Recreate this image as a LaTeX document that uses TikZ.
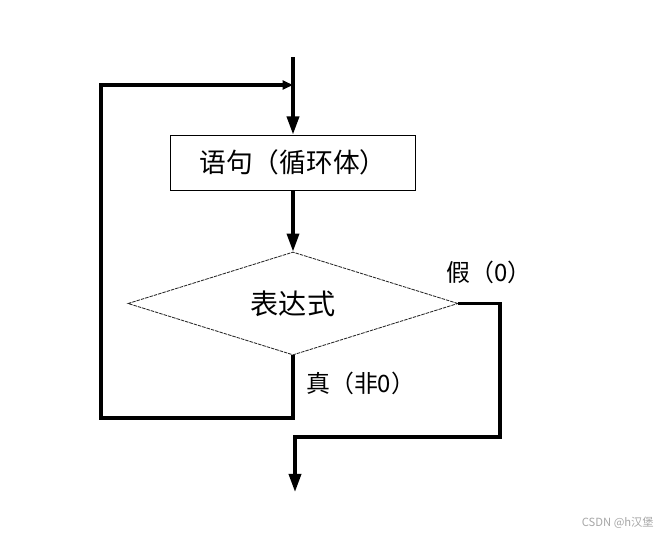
\documentclass[tikz,border=0pt]{standalone}
\usepackage{fontspec}
\newfontfamily\cjk{Noto Sans CJK SC}
\usetikzlibrary{arrows.meta, positioning, shapes.geometric}

\begin{document}
\begin{tikzpicture}[
	x=0.025cm, y=-0.025cm,
	stmt/.style={rectangle, draw, line width=0.7pt, minimum width=6.1cm, minimum height=1.375cm, inner sep=0pt, font=\cjk\fontsize{19}{22}\selectfont},
	cond/.style={diamond, draw=black!85, line width=0.6pt, dash pattern=on 2.5pt off 0.7pt, aspect=3.2, minimum width=8.25cm, minimum height=2.575cm, inner sep=0pt, font=\cjk\fontsize{20}{22}\selectfont},
	lbl/.style={anchor=west, inner sep=0pt, font=\cjk\fontsize{17}{20}\selectfont},
	flow/.style={line width=2.5pt, -{Triangle[length=4.5mm, width=3mm]}},
	loopflow/.style={line width=2.5pt, -{Triangle[length=2.6mm, width=2.2mm]}},
	wire/.style={line width=2.5pt}
]
	\useasboundingbox (0,0) rectangle (660,540);

	\node[stmt] (body) at (293,162.5) {语句（循环体）};
	\node[cond] (test) at (293,303.5) {表达式};
	\node[lbl] (truelbl) at (306,383) {真（非0）};
	\node[lbl] (falselbl) at (446,272) {假（0）};
	\node[anchor=east, inner sep=0pt, text=black!35, font=\cjk\fontsize{8}{9}\selectfont] (mark) at (654,523) {CSDN @h汉堡};

	\coordinate (entry) at (293,57);
	\coordinate (merge) at (293,85);
	\coordinate (loopback) at (101,418);
	\coordinate (exitturn) at (500,437);
	\coordinate (exit) at (295,492);

	% main flow
	\draw[wire] (entry) -- (merge);
	\draw[flow] (merge) -- (body.north);
	\draw[flow] (body.south) -- (test.north);
	% true: back to the loop body
	\draw[loopflow] (test.south) |- (loopback) |- (merge);
	% false: leave the loop
	\draw[flow] (test.east) -| (exitturn) -| (exit);
\end{tikzpicture}
\end{document}
